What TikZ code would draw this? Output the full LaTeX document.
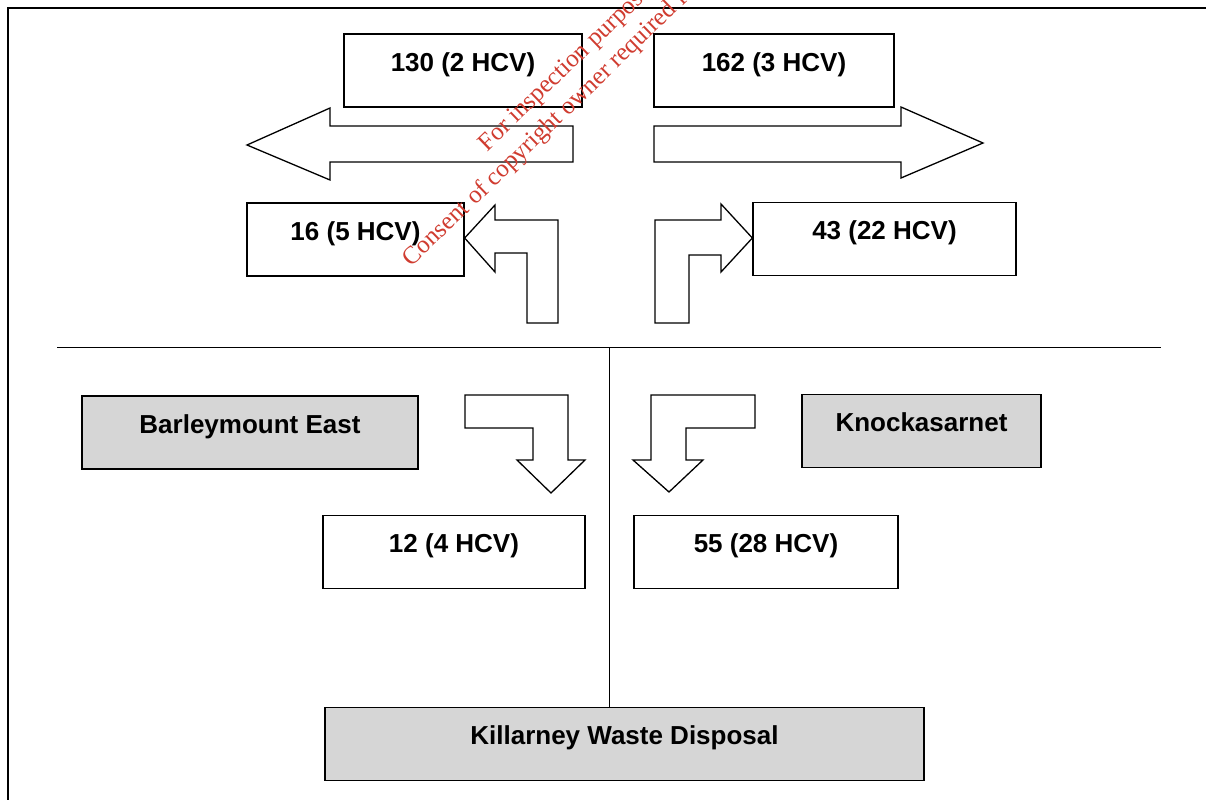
\documentclass[tikz,border=0pt]{standalone}
\usepackage{fontspec}
\setmainfont{Liberation Sans}
\newfontfamily\wmfont{Liberation Serif}
\definecolor{wmred}{RGB}{208,60,48}
\definecolor{shade}{RGB}{214,214,214}
\tikzset{
  tbox/.style={draw=black, line width=1.3pt, fill=white, inner sep=0pt,
    text height=37pt, text depth=36pt, minimum width=#1,
    font=\bfseries\fontsize{26}{30}\selectfont},
  gbox/.style={tbox=#1, fill=shade, line width=1.8pt},
  fatarrow/.style={draw=black, line width=1.3pt, fill=white, line join=miter},
  divider/.style={draw=black, line width=1pt},
  wm/.style={text=wmred, font=\wmfont\fontsize{25}{30}\selectfont, rotate=44, anchor=base, inner sep=0pt}
}
\begin{document}
\begin{tikzpicture}[x=1pt, y=-1pt]
\useasboundingbox (0,0) rectangle (1206,800);
\clip (0,0) rectangle (1206,800);

% frame
\draw[line width=2.5pt] (7,8) -- (1206,8);
\draw[line width=1.5pt] (8,8) -- (8,800);

% straight arrows
\draw[fatarrow] (247,145) -- (330,108) -- (330,126) -- (573,126) -- (573,162) -- (330,162) -- (330,180) -- cycle;
\draw[fatarrow] (983,143) -- (901,107) -- (901,126) -- (654,126) -- (654,162) -- (901,162) -- (901,178) -- cycle;

% boxes (upper part)
\node[tbox=238] (b130) at (463,70.5) {130 (2 HCV)};
\node[tbox=240] (b162) at (774,70.5) {162 (3 HCV)};
\node[tbox=217] (b16) at (355.5,239.5) {16 (5 HCV)};
\node[tbox=263] (b43) at (884.5,239) {43 (22 HCV)};

% turning arrows (upper part)
\draw[fatarrow] (b16.east |- 0,238) -- (495,205) -- (495,220) -- (558,220) -- (558,323) -- (527,323) -- (527,253) -- (495,253) -- (495,272) -- cycle;
\draw[fatarrow] (b43.west |- 0,238) -- (721,204) -- (721,220) -- (655,220) -- (655,323) -- (689,323) -- (689,255) -- (721,255) -- (721,272) -- cycle;

% dividers
\coordinate (dl) at (57,347);
\coordinate (dr) at (1161,347);
\coordinate (vt) at (609,347);
\draw[divider] (dl) -- (dr);

% lower part
\node[gbox=336] (bme) at (250,432.5) {Barleymount East};
\node[gbox=239] (kn) at (921.5,431) {Knockasarnet};
\node[tbox=262] (b12) at (454,552) {12 (4 HCV)};
\node[tbox=264] (b55) at (766,552) {55 (28 HCV)};
\node[gbox=599] (kwd) at (624.5,744) {Killarney Waste Disposal};
\draw[divider] (vt) -- (vt |- kwd.north);

% turning arrows (lower part)
\draw[fatarrow] (465,395) -- (568,395) -- (568,460) -- (585,460) -- (551,493) -- (517,460) -- (533,460) -- (533,428) -- (465,428) -- cycle;
\draw[fatarrow] (755,395) -- (651,395) -- (651,460) -- (633,460) -- (669,492) -- (703,460) -- (686,460) -- (686,428) -- (755,428) -- cycle;

% watermark
\node[wm] (wm1) at (593,50) {For inspection purposes only.};
\node[wm] (wm2) at (610,76) {Consent of copyright owner required for any other use.};
\end{tikzpicture}
\end{document}
